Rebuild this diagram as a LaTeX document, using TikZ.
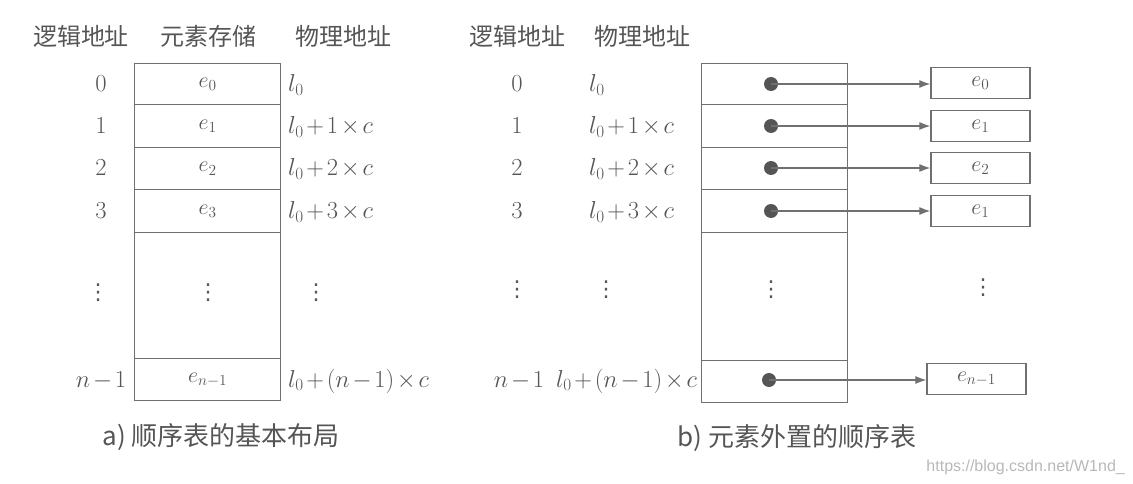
\documentclass[tikz,border=0pt]{standalone}
\usepackage{fix-cm}
\usepackage{fontspec}
\newfontfamily\cjk{Noto Sans CJK SC}
\newfontfamily\wmfont{Liberation Sans}
\newfontfamily\djv{DejaVu Sans}
\usetikzlibrary{arrows.meta}
\definecolor{ink}{HTML}{555555}
\definecolor{linec}{HTML}{707070}
\newcommand\vdts{⋮}
\newcommand\mfont{\fontsize{24.5}{29}\selectfont\medmuskip=2mu plus 1mu\relax}
\begin{document}
\begin{tikzpicture}[x=1pt,y=-1pt,
  every node/.style={text=ink, inner sep=0pt},
  cell/.style={draw=linec, line width=1.3pt, minimum width=146pt, anchor=north west, font=\fontsize{22}{26}\selectfont},
  ebox/.style={draw=linec, line width=1.3pt, minimum width=99pt, minimum height=31pt, font=\fontsize{22}{26}\selectfont},
  hdr/.style={font=\cjk\fontsize{24}{28}\selectfont},
  num/.style={font=\mfont},
  addr/.style={font=\mfont, anchor=west},
  vd/.style={font=\djv\fontsize{22}{26}\selectfont},
  ptr/.style={circle, fill=ink, minimum size=14pt},
  link/.style={draw=linec, line width=1.2pt, -{Latex[length=11pt,width=8pt]}},
  captxt/.style={font=\cjk\fontsize{26}{30}\selectfont},
  wm/.style={font=\wmfont\fontsize{16}{19}\selectfont, text=black!28, anchor=east}
]
\useasboundingbox (0,0) rectangle (1133,484);

% headers
\node[hdr] (hl1) at (81,36) {逻辑地址};
\node[hdr] (hl2) at (208,36) {元素存储};
\node[hdr] (hl3) at (343,36) {物理地址};
\node[hdr] (hr1) at (517,36) {逻辑地址};
\node[hdr] (hr2) at (642,36) {物理地址};

% left table
\node[cell, minimum height=41pt] (a0) at (134,63) {$e_0$};
\node[cell, minimum height=43pt] (a1) at (134,104) {$e_1$};
\node[cell, minimum height=42pt] (a2) at (134,147) {$e_2$};
\node[cell, minimum height=43pt] (a3) at (134,189) {$e_3$};
\node[cell, minimum height=126pt] (ad) at (134,232) {};
\node[vd] (adots) at (208,293) {\vdts};
\node[cell, minimum height=42pt] (an) at (134,358) {$e_{n-1}$};

% left logical addresses
\node[num] (la0) at (101,84) {$0$};
\node[num] (la1) at (101,126) {$1$};
\node[num] (la2) at (101,168) {$2$};
\node[num] (la3) at (101,211) {$3$};
\node[vd]  (lad) at (98,293) {\vdts};
\node[num] (lan) at (101,381) {$n-1$};

% left physical addresses
\node[addr] (lp0) at (288,85) {$l_0$};
\node[addr] (lp1) at (288,127) {$l_0+1\times c$};
\node[addr] (lp2) at (288,169) {$l_0+2\times c$};
\node[addr] (lp3) at (288,212) {$l_0+3\times c$};
\node[vd]   (lpd) at (316,293) {\vdts};
\node[addr] (lpn) at (288,381) {$l_0+(n-1)\times c$};

% right table
\node[cell, minimum height=41pt] (b0) at (701,63) {};
\node[cell, minimum height=43pt] (b1) at (701,104) {};
\node[cell, minimum height=42pt] (b2) at (701,147) {};
\node[cell, minimum height=43pt] (b3) at (701,189) {};
\node[cell, minimum height=128pt] (bd) at (701,232) {};
\node[cell, minimum height=42pt] (bn) at (701,360) {};
\node[vd] (bdots) at (771,290) {\vdts};

% right logical addresses
\node[num] (ra0) at (517,84) {$0$};
\node[num] (ra1) at (517,126) {$1$};
\node[num] (ra2) at (517,168) {$2$};
\node[num] (ra3) at (517,211) {$3$};
\node[vd]  (rad) at (517,290) {\vdts};
\node[num] (ran) at (519,381) {$n-1$};

% right physical addresses
\node[addr] (rp0) at (589,85) {$l_0$};
\node[addr] (rp1) at (589,127) {$l_0+1\times c$};
\node[addr] (rp2) at (589,169) {$l_0+2\times c$};
\node[addr] (rp3) at (589,212) {$l_0+3\times c$};
\node[vd]   (rpd) at (606,290) {\vdts};
\node[addr] (rpn) at (556,381) {$l_0+(n-1)\times c$};

% pointers
\node[ptr] (p0) at (771,84) {};
\node[ptr] (p1) at (771,126) {};
\node[ptr] (p2) at (771,168) {};
\node[ptr] (p3) at (771,211) {};
\node[ptr] (pn) at (769,380) {};

% external elements
\node[ebox] (e0) at (980.5,83) {$e_0$};
\node[ebox] (e1) at (980.5,126) {$e_1$};
\node[ebox] (e2) at (980.5,168) {$e_2$};
\node[ebox] (e3) at (980.5,211) {$e_1$};
\node[vd]   (ed) at (983,288) {\vdts};
\node[ebox] (en) at (976.5,379) {$e_{n-1}$};

\draw[link] (p0.center) -- (p0.center -| e0.west);
\draw[link] (p1.center) -- (p1.center -| e1.west);
\draw[link] (p2.center) -- (p2.center -| e2.west);
\draw[link] (p3.center) -- (p3.center -| e3.west);
\draw[link] (pn.center) -- (pn.center -| en.west);

% captions
\node[captxt] (ca) at (221,437) {a) 顺序表的基本布局};
\node[captxt] (cb) at (797,438) {b) 元素外置的顺序表};

% watermark
\node[wm] (w) at (1125,467) {https://blog.csdn.net/W1nd\_};
\end{tikzpicture}
\end{document}
